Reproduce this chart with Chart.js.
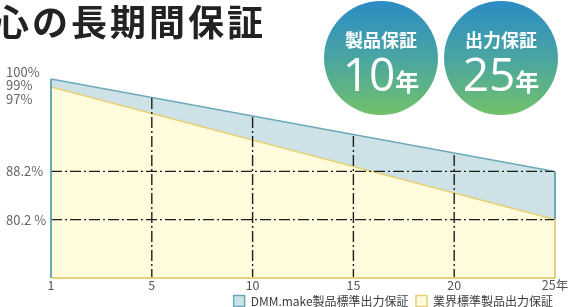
<!DOCTYPE html>
<html>
<head>
<meta charset="utf-8">
<script src="https://cdn.jsdelivr.net/npm/chart.js@4/dist/chart.umd.min.js"></script>
<style>
  body { margin: 0; background: #fff; font-family: "Noto Sans CJK JP", "Noto Sans", sans-serif; }
  #wrap { position: relative; width: 574px; height: 307px; overflow: hidden; }
  #chart { position: absolute; left: 0; top: 0; }
  .title { position: absolute; left: -7px; top: -6px; font-size: 36px; font-weight: 700; color: #222; white-space: nowrap; letter-spacing: 3px; }
  .badge { position: absolute; top: 1px; width: 114px; height: 114px; border-radius: 50%;
    background: linear-gradient(to bottom, #2b8cc6 0%, #4aa5a2 50%, #72c16a 100%); color: #fff; text-align: center; }
  .badge .cap { position: absolute; left: 0; right: 0; top: 28px; font-size: 18px; font-weight: 700; line-height: 20px; }
  .badge .num { position: absolute; left: 0; right: 0; top: 47px; font-size: 46px; font-weight: 400; line-height: 50px; font-family: "Open Sans", "Noto Sans", sans-serif; }
  .badge .num span { font-size: 24px; font-family: "Noto Sans CJK JP", sans-serif; font-weight: 700; }
</style>
</head>
<body>
<div id="wrap">
  <canvas id="chart" width="574" height="307"></canvas>
  <div class="title">心の長期間保証</div>
  <div class="badge" style="left:324px"><div class="cap">製品保証</div><div class="num">10<span>年</span></div></div>
  <div class="badge" style="left:444px"><div class="cap">出力保証</div><div class="num">25<span>年</span></div></div>
</div>
<script>
// ========== DATA ==========
const years = [1, 25];
const dmmOutput = [99, 88.2];        // DMM.make製品標準出力保証
const industryOutput = [97, 80.2];   // 業界標準製品出力保証
const seriesNames = ["DMM.make製品標準出力保証", "業界標準製品出力保証"];

const xTickValues = [1, 5, 10, 15, 20, 25];
const xTickLabels = ["1", "5", "10", "15", "20", "25年"];
const yTickValues = [100, 99, 97, 88.2, 80.2];
const yTickLabels = ["100%", "99%", "97%", "88.2%", "80.2 %"];
const gridYears = [5, 10, 15, 20];
const gridLevels = [88.2, 80.2];

// ========== WARPED SCALE (the artwork is not drawn to scale) ==========
class WarpScale extends Chart.LinearScale {
  warp(v) {
    const s = this.options.stops;
    let i = 0;
    while (i < s.length - 2 && v > s[i + 1][0]) i++;
    const [a0, b0] = s[i], [a1, b1] = s[i + 1];
    return b0 + (v - a0) * (b1 - b0) / (a1 - a0);
  }
  unwarp(d) {
    const s = this.options.stops;
    let i = 0;
    while (i < s.length - 2 && d > s[i + 1][1]) i++;
    const [a0, b0] = s[i], [a1, b1] = s[i + 1];
    return a0 + (d - b0) * (a1 - a0) / (b1 - b0);
  }
  getPixelForValue(v) { return super.getPixelForValue(this.warp(v)); }
  getValueForPixel(p) { return this.unwarp(super.getValueForPixel(p)); }
}
WarpScale.id = "warp";
WarpScale.defaults = Chart.LinearScale.defaults;
Chart.register(WarpScale);

const Y_MIN = 70.5, Y_MAX = 106.7;

// ========== GRID + FRAME ==========
const dashGrid = {
  id: "dashGrid",
  afterDatasetsDraw(chart) {
    const { ctx, chartArea: a, scales } = chart;
    const top = chart.getDatasetMeta(0).data;
    const low = chart.getDatasetMeta(1).data;
    const first = top[0], last = top[top.length - 1], lowLast = low[low.length - 1];

    ctx.save();
    ctx.beginPath();
    ctx.moveTo(first.x, a.bottom);
    top.forEach(p => ctx.lineTo(p.x, p.y));
    ctx.lineTo(last.x, a.bottom);
    ctx.closePath();
    ctx.clip();
    ctx.strokeStyle = "#1c1c1c";
    ctx.lineWidth = 1.4;
    ctx.setLineDash([11, 3, 2, 3]);
    gridYears.forEach(v => {
      const px = scales.x.getPixelForValue(v);
      ctx.beginPath(); ctx.moveTo(px, a.top); ctx.lineTo(px, a.bottom); ctx.stroke();
    });
    gridLevels.forEach(v => {
      const py = scales.y.getPixelForValue(v);
      ctx.beginPath(); ctx.moveTo(first.x, py); ctx.lineTo(last.x, py); ctx.stroke();
    });
    ctx.restore();

    ctx.save();
    ctx.lineWidth = 2;
    ctx.strokeStyle = "#6aa9b8";
    ctx.beginPath();
    ctx.moveTo(first.x, first.y); ctx.lineTo(first.x, a.bottom);
    ctx.moveTo(last.x, last.y); ctx.lineTo(last.x, lowLast.y);
    ctx.stroke();
    ctx.strokeStyle = "#e2d27e";
    ctx.beginPath();
    ctx.moveTo(lowLast.x, lowLast.y); ctx.lineTo(lowLast.x, a.bottom);
    ctx.moveTo(first.x + 1, a.bottom); ctx.lineTo(last.x, a.bottom);
    ctx.stroke();
    ctx.restore();
  }
};

// ========== CHART ==========
const font = "'Noto Sans CJK JP', 'Noto Sans', sans-serif";

new Chart(document.getElementById("chart"), {
  type: "line",
  data: {
    datasets: [
      {
        label: seriesNames[0],
        data: years.map((yr, i) => ({ x: yr, y: dmmOutput[i] })),
        borderColor: "#6aa9b8",
        backgroundColor: "#cde2e6",
        borderWidth: 1.5,
        pointRadius: 0,
        fill: "start",
        order: 2
      },
      {
        label: seriesNames[1],
        data: years.map((yr, i) => ({ x: yr, y: industryOutput[i] })),
        borderColor: "#e8cf74",
        backgroundColor: "#fffbdc",
        borderWidth: 1.5,
        pointRadius: 0,
        fill: "start",
        order: 1
      }
    ]
  },
  options: {
    responsive: false,
    animation: false,
    layout: { padding: { left: 6, right: 19, top: 60, bottom: -10 } },
    plugins: {
      tooltip: { enabled: false },
      legend: {
        position: "bottom",
        align: "end",
        labels: {
          boxWidth: 11,
          boxHeight: 11,
          padding: 2,
          color: "#3c3c3c",
          font: { family: font, size: 12 },
          generateLabels(chart) {
            const n = chart.data.datasets.length;
            return chart.data.datasets.map((ds, i) => ({
              // keep a visible gap between items while the vertical padding stays small
              text: i < n - 1 ? ds.label + "  " : ds.label,
              fillStyle: ds.backgroundColor,
              strokeStyle: ds.borderColor,
              lineWidth: 1.5,
              fontColor: "#3c3c3c",
              datasetIndex: i
            }));
          }
        }
      }
    },
    scales: {
      x: {
        type: "warp",
        stops: [[1, 0], [5, 5], [25, 25]],
        min: 0,
        max: 25,
        afterFit: s => { s.height = 15; },
        afterBuildTicks: s => { s.ticks = xTickValues.map(v => ({ value: v })); },
        grid: { display: false, drawTicks: false },
        border: { display: false },
        ticks: {
          autoSkip: false,
          maxRotation: 0,
          padding: 0,
          color: "#555",
          font: { family: font, size: 12.5 },
          callback: (v, i) => xTickLabels[i]
        }
      },
      y: {
        type: "warp",
        display: false,
        stops: [[80.2, 80.2], [88.2, 88.2], [97, 102.2], [99, 103.53]],
        min: Y_MIN,
        max: Y_MAX
      },
      yl: {
        type: "warp",
        position: "left",
        stops: [[80.2, 80.2], [88.2, 88.2], [97, 100.2], [99, 102.53], [100, 104.7]],
        min: Y_MIN,
        max: Y_MAX,
        afterFit: s => { s.width = 45; },
        afterBuildTicks: s => { s.ticks = yTickValues.map(v => ({ value: v })); },
        grid: { display: false, drawTicks: false },
        border: { display: false },
        ticks: {
          autoSkip: false,
          crossAlign: "far",
          padding: 0,
          color: "#666",
          font: { family: font, size: 13 },
          callback: (v, i) => yTickLabels[i]
        }
      }
    }
  },
  plugins: [dashGrid]
});
</script>
</body>
</html>
